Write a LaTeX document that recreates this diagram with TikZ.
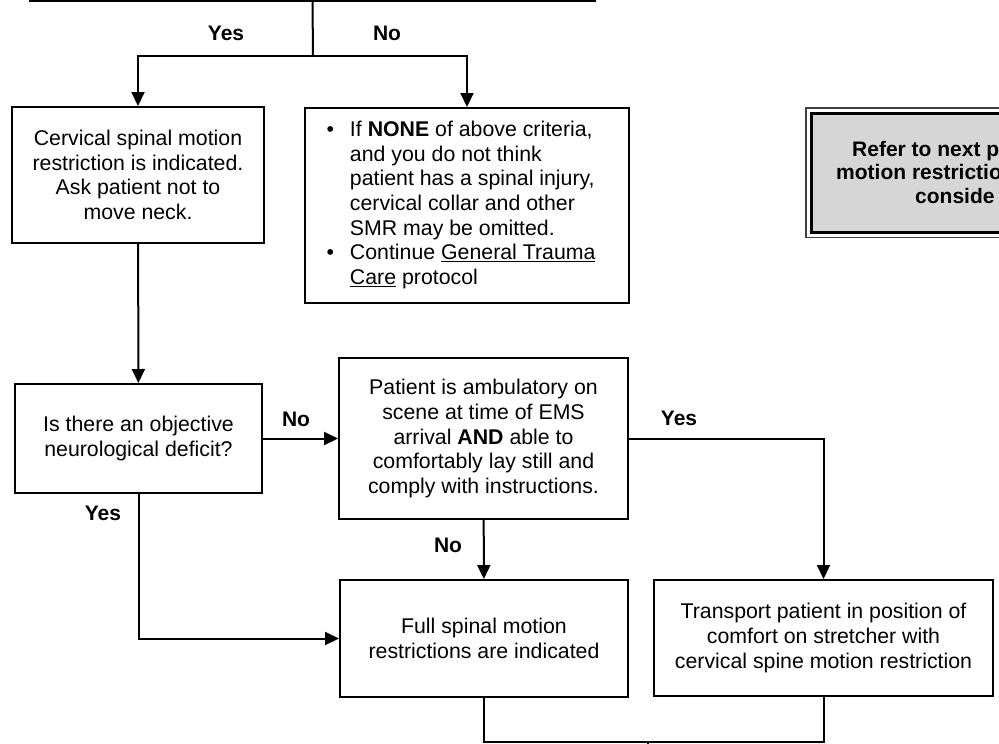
\documentclass[tikz,border=0pt]{standalone}
\usepackage{fontspec}
\setmainfont{Liberation Sans}
\usetikzlibrary{arrows.meta, positioning}

\tikzset{
  box/.style={draw, line width=2pt, align=center, inner sep=0pt,
    font=\fontsize{21.3}{24.7}\selectfont},
  refbox/.style={draw, line width=2.6pt, fill=black!16, inner sep=0pt},
  flow/.style={line width=2pt, -{Triangle[length=14pt,width=13pt]}},
  link/.style={line width=2pt},
  lbl/.style={font=\fontsize{21}{24}\selectfont\bfseries, inner sep=0pt},
}

\begin{document}
\begin{tikzpicture}[x=1pt,y=1pt]
  \useasboundingbox (0,0) rectangle (999,-744);

  % criteria box, cut off by the top edge
  \node[box, minimum width=565, minimum height=80, anchor=south] (crit) at (312.5,-2) {};
  \coordinate (split) at (313,-56);

  % yes / no after criteria
  \node[box, minimum width=252, minimum height=136] (cspine) at (138,-175)
    {Cervical spinal motion\\restriction is indicated.\\Ask patient not to\\move neck.};
  \node[box, minimum width=324, minimum height=195] (nocrit) at (467,-205.5)
    {\begin{tabular}{@{}l@{\hspace{16pt}}l@{\hspace{12pt}}}
      \textbullet & If \textbf{NONE} of above criteria,\\
                  & and you do not think\\
                  & patient has a spinal injury,\\
                  & cervical collar and other\\
                  & SMR may be omitted.\\
      \textbullet & Continue \underline{General Trauma}\\
                  & \underline{Care} protocol
    \end{tabular}};

  % refer box, cut off by the right edge
  \node[refbox, minimum width=250, minimum height=119, anchor=north west] (refer) at (810,-112) {};
  \draw[line width=1.2pt, black!75] ([xshift=-4pt,yshift=4pt]refer.north west)
    rectangle ([xshift=4pt,yshift=-4pt]refer.south east);
  \node[anchor=west, align=left, inner sep=0pt,
    font=\fontsize{21}{23.5}\selectfont\bfseries] (refnote) at (836,-172)
    {\hspace*{16pt}Refer to next p\\motion restrictio\\\hspace*{79pt}conside};

  % neuro deficit and ambulatory questions
  \node[box, minimum width=247, minimum height=109] (deficit) at (138.5,-438.5)
    {Is there an objective\\neurological deficit?};
  \node[box, minimum width=289, minimum height=161] (ambul) at (483.5,-438.5)
    {Patient is ambulatory on\\scene at time of EMS\\arrival \textbf{AND} able to\\comfortably lay still and\\comply with instructions.};

  % outcomes
  \node[box, minimum width=288, minimum height=117] (full) at (484,-638.5)
    {Full spinal motion\\restrictions are indicated};
  \node[box, minimum width=339, minimum height=116] (transport) at (823.5,-638)
    {Transport patient in position of\\comfort on stretcher with\\cervical spine motion restriction};
  \coordinate (join) at (648,-742);

  % connectors
  \draw[link] (crit.south) -- (split);
  \draw[flow] (split) -| (cspine);
  \draw[flow] (split) -| (nocrit);
  \draw[flow] (cspine) -- (deficit);
  \draw[flow] (deficit) -- (ambul);
  \draw[flow] (deficit.south) |- (full);
  \draw[flow] (ambul) -- (full);
  \draw[flow] (ambul) -| (transport);
  \draw[link] (full.south) |- (join) -| (transport.south);
  \draw[link] (join) -- ++(0,-12);

  % labels
  \node[lbl] (yes1) at (226,-33) {Yes};
  \node[lbl] (no1) at (387,-33) {No};
  \node[lbl] (no2) at (296,-419) {No};
  \node[lbl] (yes2) at (103,-513) {Yes};
  \node[lbl] (no3) at (448,-545) {No};
  \node[lbl] (yes3) at (679,-418) {Yes};
\end{tikzpicture}
\end{document}
